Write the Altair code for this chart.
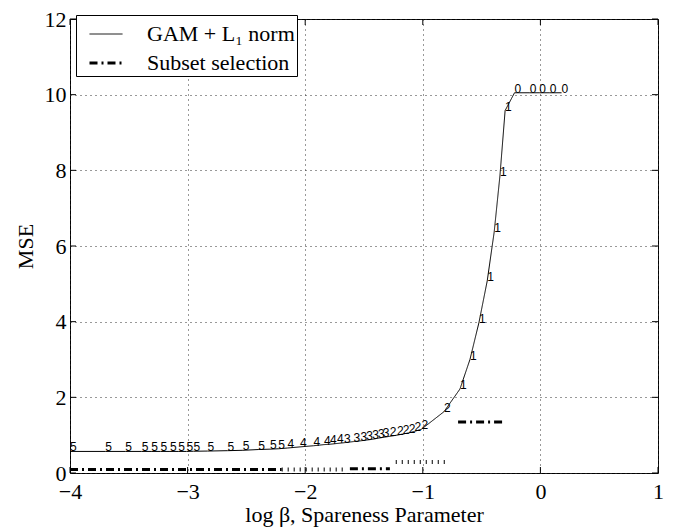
import altair as alt
import pandas as pd

# ---------------- data ----------------
gam_x = [-4.00, -3.70, -3.53, -3.39, -3.31, -3.23, -3.15, -3.08, -3.01, -2.95,
         -2.83, -2.66, -2.53, -2.40, -2.30, -2.23,
         -2.15, -2.045, -1.93, -1.84, -1.79, -1.73,
         -1.67, -1.59, -1.53, -1.48, -1.43, -1.38, -1.34,
         -1.28, -1.22, -1.17, -1.12, -1.07, -1.01, -0.82,
         -0.684, -0.599, -0.523, -0.452, -0.393, -0.344, -0.30,
         -0.22, -0.09, -0.01, 0.08, 0.18]
gam_y = [0.57, 0.57, 0.57, 0.57, 0.57, 0.57, 0.57, 0.57, 0.57, 0.575,
         0.58, 0.59, 0.60, 0.62, 0.63, 0.64,
         0.66, 0.69, 0.72, 0.75, 0.76, 0.78,
         0.80, 0.83, 0.85, 0.87, 0.89, 0.92, 0.94,
         0.97, 1.00, 1.03, 1.06, 1.10, 1.16, 1.62,
         2.22, 3.00, 3.97, 5.08, 6.37, 7.86, 9.58,
         10.05, 10.05, 10.05, 10.05, 10.05]
gam_labels = (["5"] * 16 + ["4"] * 6 + ["3"] * 7 + ["2"] * 7 +
              ["1"] * 7 + ["0"] * 5)

# subset selection: dash-dot pieces
subset_x0 = [-4.00, -1.62, -0.70]
subset_x1 = [-2.20, -1.28, -0.30]
subset_y = [0.09, 0.11, 1.35]
# subset selection: pieces drawn as short vertical strokes
subset_tick_x0 = [-2.20, -1.23]
subset_tick_x1 = [-1.68, -0.80]
subset_tick_y = [0.09, 0.29]

x_ticks = [-4, -3, -2, -1, 0, 1]
y_ticks = [0, 2, 4, 6, 8, 10, 12]
series_names = ["\u00a0GAM + L\u2081 norm", "Subset selection"]

W, H = 588, 454
SERIF = "Liberation Serif"

gam_df = pd.DataFrame({"x": gam_x, "y": gam_y, "label": gam_labels,
                       "series": series_names[0]})
sub_df = pd.DataFrame({"x0": subset_x0, "x1": subset_x1, "y": subset_y,
                       "series": series_names[1]})
subt_df = pd.DataFrame({"x0": subset_tick_x0, "x1": subset_tick_x1,
                        "y": subset_tick_y})
xt_df = pd.DataFrame({"x": x_ticks})
yt_df = pd.DataFrame({"y": y_ticks})

xs = alt.Scale(domain=[-4, 1], nice=False, zero=False)
ys = alt.Scale(domain=[0, 12], nice=False, zero=False)

xaxis = alt.Axis(values=x_ticks, format="d", title="log β, Spareness Parameter",
                 labelFont=SERIF, labelFontSize=22, labelColor="black",
                 labelPadding=8, tickSize=0, domain=False, grid=True,
                 gridDash=[1, 4], gridColor="#333", gridWidth=1,
                 labelFlush=False, labelOverlap=False,
                 titleFont=SERIF, titleFontSize=22, titleFontWeight="normal",
                 titleColor="black", titleBaseline="alphabetic", titleY=48)
yaxis = alt.Axis(values=y_ticks, format="d", title="MSE",
                 labelFont=SERIF, labelFontSize=22, labelColor="black",
                 labelPadding=4, tickSize=0, domain=False, grid=True,
                 gridDash=[1, 4], gridColor="#333", gridWidth=1,
                 labelFlush=False, labelOverlap=False,
                 titleFont=SERIF, titleFontSize=22, titleFontWeight="normal",
                 titleColor="black", titleBaseline="alphabetic",
                 titleX=-38, titleY=H / 2)

leg = alt.Legend(title=None, orient="none", legendX=6, legendY=-4,
                 fillColor="white", strokeColor="black", padding=2,
                 symbolType="stroke", symbolSize=1089, symbolOffset=10,
                 labelOffset=23, rowPadding=0, labelFont=SERIF,
                 labelFontSize=22, labelColor="black", labelLimit=400)

color_enc = alt.Color("series:N", scale=alt.Scale(domain=series_names,
                                                  range=["black", "black"]),
                      legend=leg)
dash_enc = alt.StrokeDash("series:N", scale=alt.Scale(domain=series_names,
                                                      range=[[1, 0], [8, 4, 2, 4]]),
                          legend=leg)
width_enc = alt.StrokeWidth("series:N", scale=alt.Scale(domain=series_names,
                                                        range=[1, 3]),
                            legend=leg)


def X(field):
    return alt.X(field, scale=xs, axis=xaxis)


def Y(field):
    return alt.Y(field, scale=ys, axis=yaxis)


gam_line = alt.Chart(gam_df).mark_line().encode(
    x=X("x:Q"), y=Y("y:Q"),
    color=color_enc, strokeDash=dash_enc, strokeWidth=width_enc,
)

gam_text = alt.Chart(gam_df).mark_text(
    align="left", baseline="alphabetic", font="Liberation Sans",
    fontSize=12, color="black"
).encode(x=X("x:Q"), y=Y("y:Q"), text="label:N")

sub_rule = alt.Chart(sub_df).mark_rule(strokeCap="butt").encode(
    x=X("x0:Q"), x2="x1:Q", y=Y("y:Q"),
    color=color_enc, strokeDash=dash_enc, strokeWidth=width_enc,
)

sub_ticks = alt.Chart(subt_df).mark_rule(
    strokeDash=[1, 5], strokeWidth=4, color="black", strokeCap="butt"
).encode(x=X("x0:Q"), x2="x1:Q", y=Y("y:Q"))

tick_bottom = alt.Chart(xt_df).mark_rule(color="black").encode(
    x=X("x:Q"), y=alt.value(H), y2=alt.value(H - 6))
tick_top = alt.Chart(xt_df).mark_rule(color="black").encode(
    x=X("x:Q"), y=alt.value(0), y2=alt.value(6))
tick_left = alt.Chart(yt_df).mark_rule(color="black").encode(
    y=Y("y:Q"), x=alt.value(0), x2=alt.value(6))
tick_right = alt.Chart(yt_df).mark_rule(color="black").encode(
    y=Y("y:Q"), x=alt.value(W), x2=alt.value(W - 6))

chart = alt.layer(
    gam_line, sub_rule, sub_ticks, gam_text,
    tick_bottom, tick_top, tick_left, tick_right
).properties(
    width=W, height=H,
    padding={"left": 62, "top": 11, "right": 16, "bottom": 56},
    autosize=alt.AutoSizeParams(type="none"),
    background="white",
).configure_view(stroke="black", strokeWidth=1)

chart.save("out.html", embed_options={"renderer": "svg", "actions": False})
